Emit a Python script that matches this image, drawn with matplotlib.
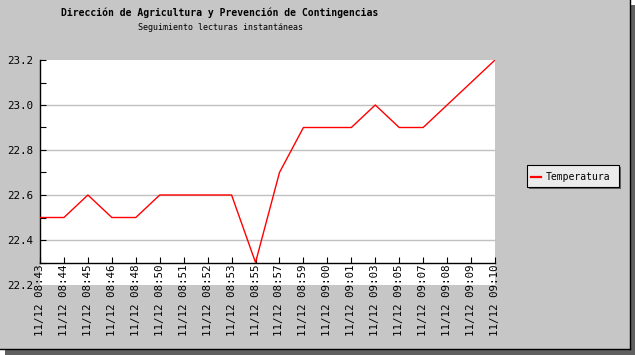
import matplotlib
matplotlib.use("Agg")
import matplotlib.pyplot as plt
from matplotlib.patches import Rectangle
from matplotlib.lines import Line2D
from matplotlib.ticker import MultipleLocator

plt.rcParams['font.family'] = ['DejaVu Sans Mono', 'DejaVu Sans']

title = "Dirección de Agricultura y Prevención de Contingencias"
subtitle = "Seguimiento lecturas instantáneas"
series_name = "Temperatura"
times = ["11/12 08:43", "11/12 08:44", "11/12 08:45", "11/12 08:46", "11/12 08:48",
         "11/12 08:50", "11/12 08:51", "11/12 08:52", "11/12 08:53", "11/12 08:55",
         "11/12 08:57", "11/12 08:59", "11/12 09:00", "11/12 09:01", "11/12 09:03",
         "11/12 09:05", "11/12 09:07", "11/12 09:08", "11/12 09:09", "11/12 09:10"]
temps = [22.5, 22.5, 22.6, 22.5, 22.5, 22.6, 22.6, 22.6, 22.6, 22.3,
         22.7, 22.9, 22.9, 22.9, 23.0, 22.9, 22.9, 23.0, 23.1, 23.2]
y_ticks = [22.2, 22.4, 22.6, 22.8, 23.0, 23.2]

W, H = 635, 355
fig = plt.figure(figsize=(W / 100, H / 100), dpi=100)
fig.patch.set_facecolor('white')

# background frame (pixel coords)
bg = fig.add_axes([0, 0, 1, 1])
bg.set_xlim(0, W)
bg.set_ylim(H, 0)
bg.axis('off')
bg.add_patch(Rectangle((5, 5), W - 5, H - 5, facecolor='#606060', edgecolor='none'))
bg.add_patch(Rectangle((0, 0), 630, 349, facecolor='#c6c6c6', edgecolor='none'))
bg.add_line(Line2D([629.5, 629.5], [0, 349], color='black', lw=1.0))
bg.add_line(Line2D([0, 630], [348.5, 348.5], color='black', lw=1.0))

bg.text(220, 13, title, ha='center', va='center', fontsize=7.0, fontweight='bold')
bg.text(220, 28, subtitle, ha='center', va='center', fontsize=6.0)

# legend
bg.add_patch(Rectangle((529, 167), 92, 22, facecolor='#606060', edgecolor='none'))
bg.add_patch(Rectangle((527, 165), 92, 22, facecolor='#ebebeb', edgecolor='black', lw=0.8))
bg.add_line(Line2D([531, 541], [176.5, 176.5], color='red', lw=1.6))
bg.text(546, 177, series_name, ha='left', va='center', fontsize=7.0)

# plot
ax = fig.add_axes([40 / W, (H - 285) / H, 455 / W, 225 / H])
ax.set_facecolor('white')
x = list(range(len(times)))
ax.plot(x, temps, color='red', lw=1.0, zorder=3)
ax.set_xlim(0, len(times) - 1)
ax.set_ylim(22.2, 23.2)

for s in ['top', 'right']:
    ax.spines[s].set_visible(False)
ax.spines['left'].set_bounds(min(temps), 23.2)
ax.spines['bottom'].set_position(('data', min(temps)))
ax.spines['left'].set_linewidth(1.0)
ax.spines['bottom'].set_linewidth(1.0)

ax.set_yticks(y_ticks)
ax.set_yticklabels([f"{v:.1f}" for v in y_ticks])
ax.yaxis.set_minor_locator(MultipleLocator(0.1))
ax.tick_params(axis='y', which='both', direction='in', length=4, width=0.8, pad=5,
               labelsize=7.8)
ax.set_xticks(x)
ax.set_xticklabels(times, rotation=90, ha='center', va='top')
ax.tick_params(axis='x', direction='in', length=4, width=0.8, pad=1.5, labelsize=7.8)

ax.grid(axis='y', color='#c0c0c0', lw=1.0, zorder=1)
ticks = ax.yaxis.get_major_ticks()
ticks[0].tick1line.set_visible(False)
ticks[0].gridline.set_visible(False)
ticks[-1].gridline.set_visible(False)

fig.savefig('out.png', dpi=100)
